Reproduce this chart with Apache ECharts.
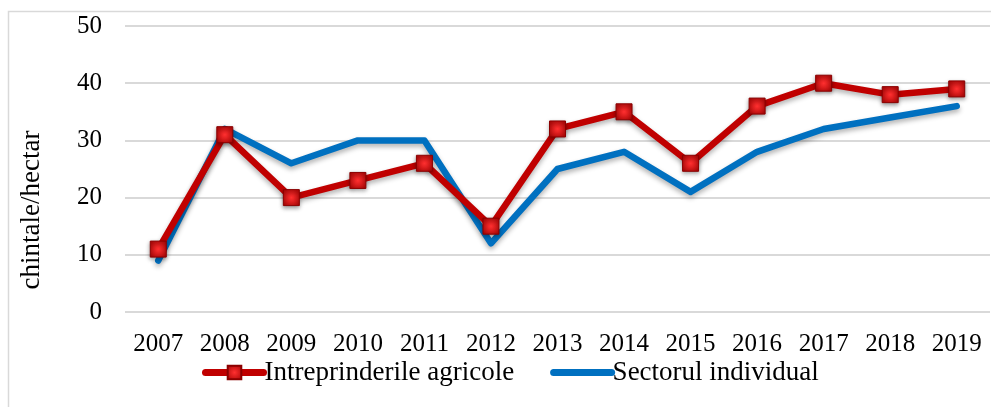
<!DOCTYPE html>
<html>
<head>
<meta charset="utf-8">
<script src="https://cdn.jsdelivr.net/npm/echarts@6/dist/echarts.min.js"></script>
<style>
    html, body { margin: 0; padding: 0; background: #fff; }
    #chart { width: 991px; height: 407px; }
</style>
</head>
<body>
<div id="chart"></div>
<script>
// date
const years = ['2007', '2008', '2009', '2010', '2011', '2012', '2013', '2014', '2015', '2016', '2017', '2018', '2019']
const intreprinderi = [11, 31, 20, 23, 26, 15, 32, 35, 26, 36, 40, 38, 39]
const sectorIndividual = [9, 32, 26, 30, 30, 12, 25, 28, 21, 28, 32, 34, 36]
const seriesNames = ['Intreprinderile agricole', 'Sectorul individual']
const axisTitle = 'chintale/hectar'

const font = 'Liberation Serif'
const fontSize = 25

const chart = echarts.init(document.getElementById('chart'))
chart.setOption({
    animation: false,
    backgroundColor: '#fff',
    graphic: [
        {
            type: 'rect',
            shape: { x: 8.5, y: 11.5, width: 1000, height: 410 },
            style: { fill: 'none', stroke: '#d9d9d9', lineWidth: 1.5 },
            silent: true,
        },
        {
            // titlul axei Y
            type: 'text',
            x: 32,
            y: 210,
            rotation: Math.PI / 2,
            style: {
                text: axisTitle,
                font: '27px "Liberation Serif"',
                fill: '#000',
                align: 'center',
                verticalAlign: 'middle',
            },
            silent: true,
        },
    ],
    grid: {
        left: 125,
        right: 1,
        top: 26,
        bottom: 95,
    },
    legend: {
        data: [
            { name: seriesNames[0] },
            { name: seriesNames[1], itemStyle: { opacity: 0 } },
        ],
        left: 197,
        top: 354,
        itemWidth: 58,
        itemHeight: 17,
        itemGap: 36,
        lineStyle: { width: 7, cap: 'round' },
        textStyle: {
            fontFamily: font,
            fontSize: 27,
            color: '#000',
            padding: [0, 0, 0, -4],
        },
    },
    xAxis: {
        type: 'category',
        data: years,
        boundaryGap: true,
        axisLine: { show: false },
        axisTick: { show: false },
        axisLabel: {
            fontFamily: font,
            fontSize: fontSize,
            color: '#000',
            margin: 20,
        },
    },
    yAxis: {
        type: 'value',
        min: 0,
        max: 50,
        interval: 10,
        axisLine: { show: false },
        axisTick: { show: false },
        axisLabel: {
            fontFamily: font,
            fontSize: fontSize,
            color: '#000',
            margin: 23,
        },
        splitLine: {
            lineStyle: { color: '#d9d9d9', width: 2 },
        },
    },
    series: [
        {
            name: seriesNames[0],
            type: 'line',
            data: intreprinderi,
            symbol: 'rect',
            symbolSize: 16,
            itemStyle: {
                color: new echarts.graphic.RadialGradient(0.5, 0.5, 0.7, [
                    { offset: 0, color: '#ff3030' },
                    { offset: 1, color: '#a00000' },
                ]),
                borderColor: '#8b0000',
                borderWidth: 1,
                shadowColor: 'rgba(0,0,0,0.35)',
                shadowBlur: 4,
                shadowOffsetY: 2,
            },
            lineStyle: {
                color: '#c00000',
                width: 6.5,
                join: 'round',
                shadowColor: 'rgba(0,0,0,0.3)',
                shadowBlur: 5,
                shadowOffsetY: 3,
            },
            z: 3,
        },
        {
            name: seriesNames[1],
            type: 'line',
            data: sectorIndividual,
            symbol: 'circle',
            showSymbol: false,
            itemStyle: { color: '#0070c0' },
            lineStyle: {
                color: '#0070c0',
                width: 6.5,
                cap: 'round',
                join: 'round',
                shadowColor: 'rgba(0,0,0,0.3)',
                shadowBlur: 5,
                shadowOffsetY: 3,
            },
            z: 2,
        },
    ],
})
</script>
</body>
</html>
